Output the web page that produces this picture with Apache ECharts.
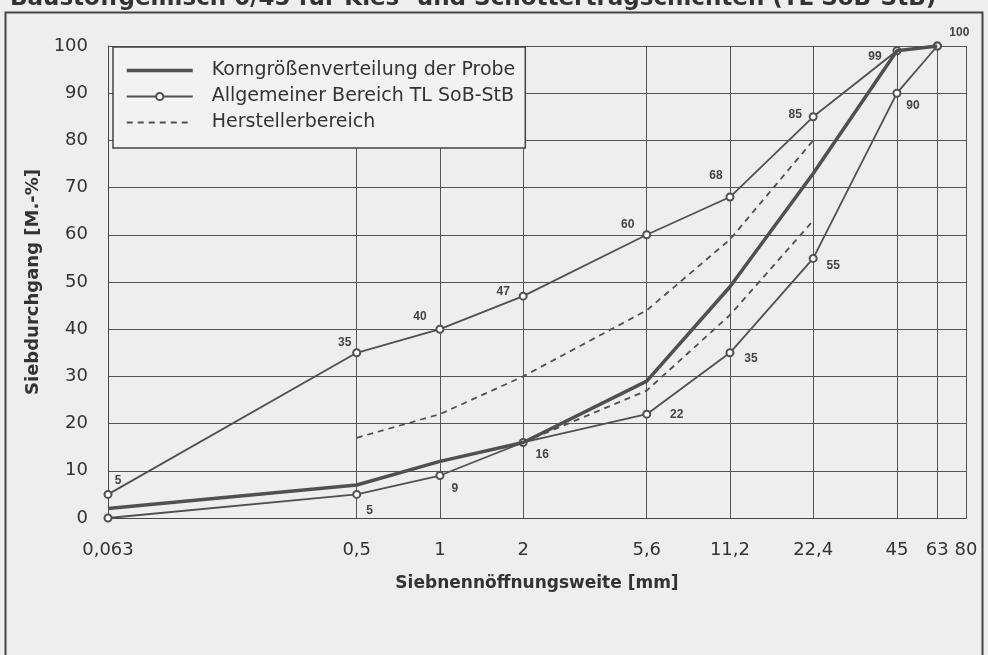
<!DOCTYPE html>
<html><head><meta charset="utf-8">
<script src="https://cdn.jsdelivr.net/npm/echarts@6/dist/echarts.min.js"></script>
<style>html,body{margin:0;padding:0;background:#eeeeee;}#c{width:988px;height:655px;}</style>
</head><body><div id="c"></div>
<script>
const sieves = [0.063, 0.5, 1, 2, 5.6, 11.2, 22.4, 45, 63];
const xTicks = [0.063, 0.5, 1, 2, 5.6, 11.2, 22.4, 45, 63, 80];
const sample = [2, 7, 12, 16, 29, 49, 73, 99, 100];
const upperLimit = [5, 35, 40, 47, 60, 68, 85, 99, 100];
const lowerLimit = [0, 5, 9, 16, 22, 35, 55, 90, 100];
const makerSieves = [0.5, 1, 2, 5.6, 11.2, 22.4];
const makerUpper = [17, 22, 30, 44, 59, 80];
const makerLowerSieves = [2, 5.6, 11.2, 22.4];
const makerLower = [16, 27, 43, 63];

const C = '#505050';
const font = 'DejaVu Sans, Verdana, sans-serif';
const lfont = 'Liberation Sans, Arial, sans-serif';
const pair = (xs, ys) => xs.map((x, i) => [x, ys[i]]);
const fmt = v => {
  let best = xTicks[0];
  xTicks.forEach(t => { if (Math.abs(Math.log(t) - Math.log(v)) < Math.abs(Math.log(best) - Math.log(v))) best = t; });
  return String(best).replace('.', ',');
};
const lblBase = {show: true, position: 'inside', color: '#444', fontFamily: lfont, fontWeight: 'bold', fontSize: 12, formatter: p => p.value[1]};
const upperOff = [[10,-14],[-12,-10],[-20,-13],[-20,-4],[-19,-10],[-14,-21],[-18,-2],[-22,6],[22,-13]];
const lowerOff = [null,[13,16],[15,13],[19,12],[30,1],[21,6],[20,7],[16,12],null];

const upData = pair(sieves, upperLimit).map((v, i) => ({value: v, label: {offset: upperOff[i]}}));
const loData = pair(sieves, lowerLimit).map((v, i) => ({value: v, label: lowerOff[i] ? {offset: lowerOff[i]} : {show: false}}));
const hidden = {color: 'rgba(0,0,0,0)', borderColor: 'rgba(0,0,0,0)', borderWidth: 0};

const chart = echarts.init(document.getElementById('c'), null, {renderer: 'canvas'});
chart.setOption({
  backgroundColor: '#eeeeee',
  animation: false,
  graphic: [
    {type: 'rect', shape: {x: 5.5, y: 12.5, width: 977, height: 660}, style: {fill: 'none', stroke: '#444', lineWidth: 2}},
    {type: 'text', left: 10, top: -12, style: {text: 'Baustoffgemisch 0/45 für Kies- und Schottertragschichten (TL SoB-StB)', font: 'bold 23px ' + font, fill: '#333'}}
  ],
  grid: {left: 108, right: 22, top: 46, bottom: 137, show: false},
  legend: {
    left: 113, top: 47, orient: 'vertical', itemWidth: 66, itemHeight: 9, itemGap: 7,
    padding: [14, 10, 16, 12],
    backgroundColor: '#f2f2f2', borderColor: '#444', borderWidth: 1.5,
    textStyle: {fontFamily: font, fontSize: 19, color: '#333', padding: [0,0,0,14]},
    data: [
      {name: 'Korngrößenverteilung der Probe', itemStyle: hidden, lineStyle: {width: 3.5, color: C}},
      {name: 'Allgemeiner Bereich TL SoB-StB', lineStyle: {width: 1.8, color: C}, itemStyle: {borderWidth: 1.5}},
      {name: 'Herstellerbereich', itemStyle: hidden, lineStyle: {width: 1.8, color: C, type: [6, 5]}}
    ]
  },
  xAxis: {
    type: 'log', logBase: 10, min: 0.063, max: 80,
    name: 'Siebnennöffnungsweite [mm]', nameLocation: 'middle', nameGap: 57,
    nameTextStyle: {fontFamily: font, fontSize: 17, fontWeight: 'bold', color: '#333'},
    axisLine: {show: true, lineStyle: {color: '#444', width: 1}},
    axisTick: {show: false, customValues: xTicks},
    axisLabel: {customValues: xTicks, formatter: fmt, fontFamily: font, fontSize: 18, color: '#333', margin: 23},
    splitLine: {show: true, lineStyle: {color: '#555', width: 1}},
    minorTick: {show: false}, minorSplitLine: {show: false}
  },
  yAxis: {
    type: 'value', min: 0, max: 100, interval: 10,
    name: 'Siebdurchgang [M.-%]', nameLocation: 'middle', nameGap: 60,
    nameTextStyle: {fontFamily: font, fontSize: 18, fontWeight: 'bold', color: '#333'},
    axisLine: {show: true, lineStyle: {color: '#444'}},
    axisTick: {show: false},
    axisLabel: {fontFamily: font, fontSize: 18, color: '#333', margin: 20},
    splitLine: {show: true, lineStyle: {color: '#555', width: 1}}
  },
  series: [
    {name: 'Korngrößenverteilung der Probe', type: 'line', data: pair(sieves, sample), symbol: 'none',
     lineStyle: {color: C, width: 3.5}, itemStyle: {color: C}, z: 5},
    {name: 'Allgemeiner Bereich TL SoB-StB', type: 'line', data: upData, symbol: 'emptyCircle', symbolSize: 7,
     lineStyle: {color: C, width: 1.8}, itemStyle: {color: C, borderWidth: 1.8}, label: lblBase, z: 4},
    {name: 'Allgemeiner Bereich TL SoB-StB', type: 'line', data: loData, symbol: 'emptyCircle', symbolSize: 7,
     lineStyle: {color: C, width: 1.8}, itemStyle: {color: C, borderWidth: 1.8}, label: lblBase, z: 4},
    {name: 'Herstellerbereich', type: 'line', data: pair(makerSieves, makerUpper), symbol: 'none',
     lineStyle: {color: C, width: 1.8, type: [6, 5]}, itemStyle: {color: C}, z: 3},
    {name: 'Herstellerbereich', type: 'line', data: pair(makerLowerSieves, makerLower), symbol: 'none',
     lineStyle: {color: C, width: 1.8, type: [6, 5]}, itemStyle: {color: C}, z: 3}
  ]
});
</script>
</body></html>
